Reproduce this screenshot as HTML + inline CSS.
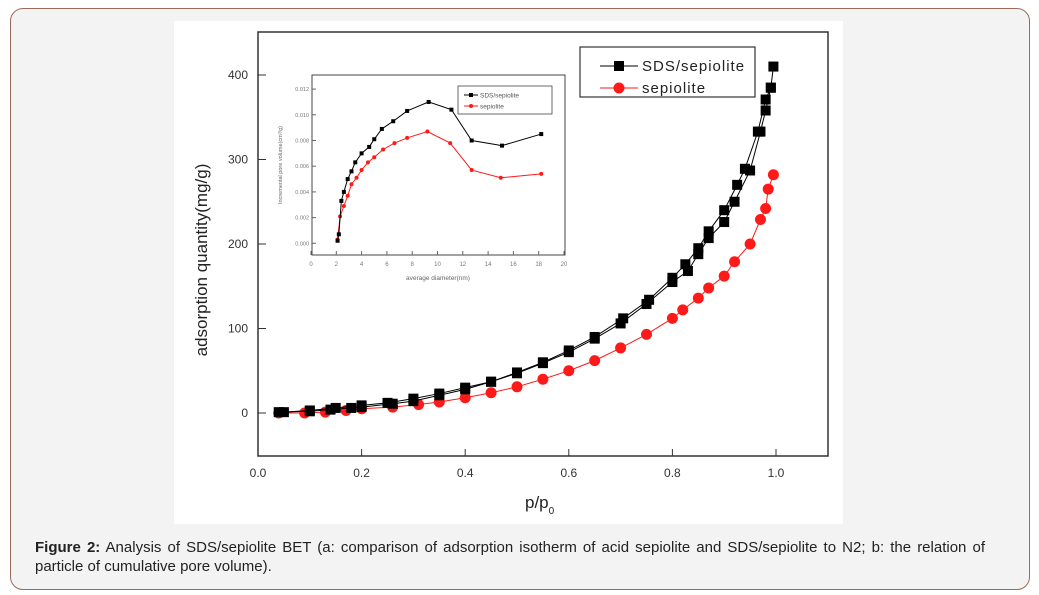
<!DOCTYPE html>
<html><head><meta charset="utf-8"><style>
body{margin:0;width:1039px;height:595px;background:#fff;font-family:"Liberation Sans",sans-serif;overflow:hidden}
#outer{position:absolute;left:10px;top:8px;width:1018px;height:580px;border:1px solid #9a6a5a;border-radius:13px;background:#f3f3f3}
#cap{position:absolute;left:35px;top:538px;width:950px;font-size:15px;line-height:19px;color:#222;text-align:justify}
svg{position:absolute;left:0;top:0}
</style></head><body>
<div id="outer"></div>
<svg id="chart" width="1039" height="595"></svg>
<div id="cap"><b>Figure 2:</b> Analysis of SDS/sepiolite BET (a: comparison of adsorption isotherm of acid sepiolite and SDS/sepiolite to N2; b: the relation of particle of cumulative pore volume).</div>
<script>
const xTicks=[0.0,0.2,0.4,0.6,0.8,1.0];
const yTicks=[0,100,200,300,400];
const sdsAdsX=[0.04,0.1,0.14,0.18,0.2,0.26,0.3,0.35,0.4,0.45,0.5,0.55,0.6,0.65,0.7,0.75,0.8,0.83,0.85,0.87,0.9,0.92,0.95,0.97,0.98,0.99,0.995];
const sdsAdsY=[1,2,4,6,7,11,14,21,28,37,47,59,72,88,106,129,155,168,188,207,226,250,287,333,358,385,410];
const sdsDesX=[0.99,0.98,0.965,0.94,0.925,0.9,0.87,0.85,0.825,0.8,0.755,0.705,0.65,0.6,0.55,0.5,0.45,0.4,0.35,0.3,0.25,0.2,0.15,0.1,0.05];
const sdsDesY=[385,371,333,289,270,240,215,195,176,160,134,112,90,74,60,48,37,30,23,17,12,9,6,3,1];
const sepX=[0.04,0.09,0.13,0.17,0.2,0.26,0.31,0.35,0.4,0.45,0.5,0.55,0.6,0.65,0.7,0.75,0.8,0.82,0.85,0.87,0.9,0.92,0.95,0.97,0.98,0.985,0.995];
const sepY=[0,0,1,3,5,7,10,13,18,24,31,40,50,62,77,93,112,122,136,148,162,179,200,229,242,265,282];
const inXTicks=[0,2,4,6,8,10,12,14,16,18,20];
const inYTicks=[0,0.002,0.004,0.006,0.008,0.010,0.012];
const inSdsX=[2.1,2.2,2.4,2.6,2.9,3.2,3.5,4.0,4.6,5.0,5.6,6.5,7.6,9.3,11.1,12.7,15.1,18.2];
const inSdsY=[0.0002,0.0007,0.0033,0.004,0.005,0.0056,0.0063,0.007,0.0075,0.0081,0.0089,0.0095,0.0103,0.011,0.0104,0.008,0.0076,0.0085];
const inSepX=[2.1,2.3,2.6,2.9,3.2,3.6,4.0,4.5,5.0,5.7,6.6,7.6,9.2,11.0,12.7,15.0,18.2];
const inSepY=[0.0003,0.0021,0.0029,0.0037,0.0046,0.0051,0.0057,0.0063,0.0067,0.0073,0.0078,0.0082,0.0087,0.0078,0.0057,0.0051,0.0054];

const NS="http://www.w3.org/2000/svg";
const svg=document.getElementById('chart');
function mk(tag,a,parent){const e=document.createElementNS(NS,tag);for(const k in a)e.setAttribute(k,a[k]);(parent||svg).appendChild(e);return e;}
const X=v=>258+v*518, Y=v=>413-v*0.845;
const IX=v=>311+v*12.65, IY=v=>243.3-v*12850;

let bg=mk('rect',{x:174,y:21,width:669,height:503,fill:'#fff'});


let fr=mk('rect',{x:258,y:32,width:570,height:424,fill:'none',stroke:'#333','stroke-width':1.5});


xTicks.forEach(t=>{
  mk('line',{x1:X(t),x2:X(t),y1:456,y2:449,stroke:'#333'});
  let tx=mk('text',{x:X(t),y:477,'text-anchor':'middle','font-size':12,fill:'#333'});tx.textContent=t.toFixed(1);
  
  
});
yTicks.forEach(t=>{
  mk('line',{x1:258,x2:266,y1:Y(t),y2:Y(t),stroke:'#333'});
  let tx=mk('text',{x:248,y:Y(t)+4,'text-anchor':'end','font-size':12,fill:'#333'});tx.textContent=t;
  
  
});
let yt=mk('text',{x:207,y:260,transform:'rotate(-90 207 260)','text-anchor':'middle','font-size':17,fill:'#222'});yt.textContent='adsorption quantity(mg/g)';


let xt=mk('text',{x:525,y:508,'font-size':17,fill:'#222'});xt.innerHTML='p/p<tspan font-size="10" dy="6">0</tspan>';



function series(xs,ys,fx,fy,color,shape,sz,name){
  const g=mk('g',{});
  
  
  mk('polyline',{points:xs.map((x,i)=>fx(x)+','+fy(ys[i])).join(' '),fill:'none',stroke:color,'stroke-width':1},g);
  xs.forEach((x,i)=>{
    let m;
    if(shape==='sq')m=mk('rect',{x:fx(x)-sz,y:fy(ys[i])-sz,width:2*sz,height:2*sz,fill:color},g);
    else m=mk('circle',{cx:fx(x),cy:fy(ys[i]),r:sz,fill:color},g);
    
    
  });
}
series(sepX,sepY,X,Y,'#ff1a1a','c',5.5,'sepiolite-series');
series(sdsDesX,sdsDesY,X,Y,'#000','sq',5,'sds-desorption-series');
series(sdsAdsX,sdsAdsY,X,Y,'#000','sq',5,'sds-adsorption-series');

const lg=mk('g',{});


mk('rect',{x:580,y:47,width:175,height:50,fill:'#fff',stroke:'#333','stroke-width':1.2},lg);
mk('line',{x1:600,x2:638,y1:66,y2:66,stroke:'#000'},lg);
mk('rect',{x:614,y:61,width:10,height:10,fill:'#000'},lg);
let l1=mk('text',{x:642,y:71,'font-size':15,fill:'#222','letter-spacing':'1'},lg);l1.textContent='SDS/sepiolite';
mk('line',{x1:600,x2:638,y1:88,y2:88,stroke:'#ff1a1a'},lg);
mk('circle',{cx:619,cy:88,r:5.5,fill:'#ff1a1a'},lg);
let l2=mk('text',{x:642,y:93,'font-size':15,fill:'#222','letter-spacing':'1'},lg);l2.textContent='sepiolite';

const ig=mk('g',{});


mk('rect',{x:312,y:75,width:253,height:180,fill:'#fff',stroke:'#444','stroke-width':1},ig);
inXTicks.forEach(t=>{
  mk('line',{x1:IX(t),x2:IX(t),y1:255,y2:251,stroke:'#666'},ig);
  let tx=mk('text',{x:IX(t),y:266,'text-anchor':'middle','font-size':6,fill:'#777'},ig);tx.textContent=t;
});
inYTicks.forEach(t=>{
  mk('line',{x1:312,x2:316,y1:IY(t),y2:IY(t),stroke:'#666'},ig);
  let tx=mk('text',{x:309,y:IY(t)+2,'text-anchor':'end','font-size':5.5,fill:'#777'},ig);tx.textContent=t.toFixed(3);
});
let it=mk('text',{x:438,y:280,'text-anchor':'middle','font-size':6.5,fill:'#666'},ig);it.textContent='average diameter(nm)';
let iy=mk('text',{x:282,y:165,transform:'rotate(-90 282 165)','text-anchor':'middle','font-size':5.5,fill:'#666'},ig);iy.textContent='Incremental pore volume(cm³/g)';
series(inSepX,inSepY,IX,IY,'#ff1a1a','c',2,'inset-sepiolite-series');
series(inSdsX,inSdsY,IX,IY,'#000','sq',2,'inset-sds-series');
mk('rect',{x:458,y:86,width:94,height:28,fill:'#fff',stroke:'#444','stroke-width':0.8},ig);
mk('line',{x1:464,x2:478,y1:95,y2:95,stroke:'#000'},ig);
mk('rect',{x:469,y:93,width:4,height:4,fill:'#000'},ig);
let il1=mk('text',{x:480,y:97.5,'font-size':6.5,fill:'#555'},ig);il1.textContent='SDS/sepiolite';
mk('line',{x1:464,x2:478,y1:106,y2:106,stroke:'#ff1a1a'},ig);
mk('circle',{cx:471,cy:106,r:2,fill:'#ff1a1a'},ig);
let il2=mk('text',{x:480,y:108.5,'font-size':6.5,fill:'#555'},ig);il2.textContent='sepiolite';
</script>
</body></html>
